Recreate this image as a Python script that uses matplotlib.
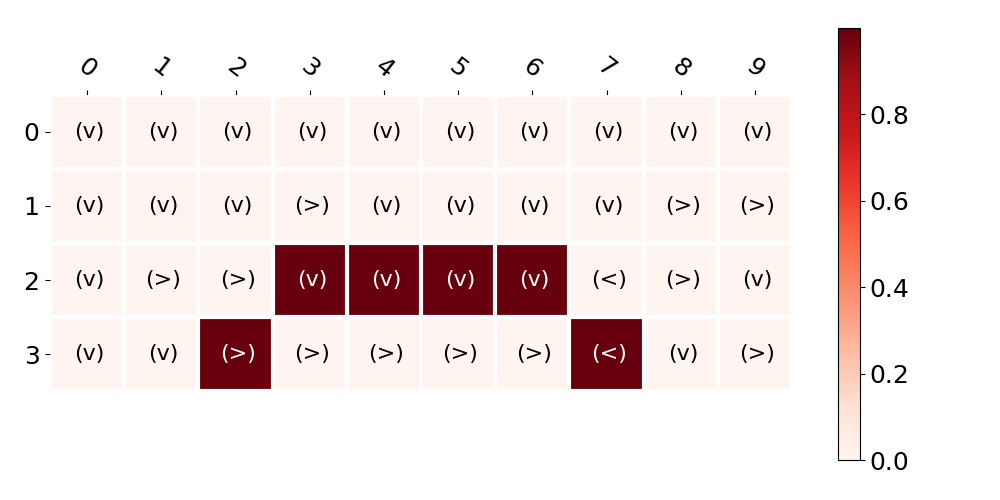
import matplotlib
matplotlib.use("Agg")
import matplotlib.pyplot as plt
import numpy as np

# grid values (0 = light, 1 = dark)
row_0 = [0, 0, 0, 0, 0, 0, 0, 0, 0, 0]
row_1 = [0, 0, 0, 0, 0, 0, 0, 0, 0, 0]
row_2 = [0, 0, 0, 1, 1, 1, 1, 0, 0, 0]
row_3 = [0, 0, 1, 0, 0, 0, 0, 1, 0, 0]

# cell labels
labels_0 = ["v", "v", "v", "v", "v", "v", "v", "v", "v", "v"]
labels_1 = ["v", "v", "v", ">", "v", "v", "v", "v", ">", ">"]
labels_2 = ["v", ">", ">", "v", "v", "v", "v", "<", ">", "v"]
labels_3 = ["v", "v", ">", ">", ">", ">", ">", "<", "v", ">"]

col_names = [str(i) for i in range(10)]
row_names = [str(i) for i in range(4)]

values = np.array([row_0, row_1, row_2, row_3], dtype=float)
labels = [labels_0, labels_1, labels_2, labels_3]

fig = plt.figure(figsize=(10, 5), dpi=100)
ax = fig.add_axes([0.050, 0.2172, 0.742, 0.5936])
cax = fig.add_axes([0.838, 0.08, 0.022, 0.864])

im = ax.imshow(values, cmap="Reds", vmin=0, vmax=1, aspect="equal")

# white separators between cells
ax.set_xticks(np.arange(values.shape[1] + 1) - 0.5, minor=True)
ax.set_yticks(np.arange(values.shape[0] + 1) - 0.5, minor=True)
ax.grid(which="minor", color="white", linewidth=3)
ax.tick_params(which="minor", top=False, bottom=False, left=False)
for s in ax.spines.values():
    s.set_visible(False)

ax.set_xticks(np.arange(len(col_names)))
ax.set_xticklabels(col_names, fontsize=18, rotation=-38, ha="center")
ax.set_yticks(np.arange(len(row_names)))
ax.set_yticklabels(row_names, fontsize=18)
ax.tick_params(axis="x", top=True, bottom=False, labeltop=True,
               labelbottom=False, pad=5)
ax.tick_params(axis="y", pad=4)

for i in range(values.shape[0]):
    for j in range(values.shape[1]):
        color = "white" if values[i, j] > 0.5 else "black"
        ax.text(j + 0.03, i, "(" + labels[i][j] + ")", ha="center", va="center",
                fontsize=16, color=color)

cb = fig.colorbar(im, cax=cax)
cb.set_ticks([0.0, 0.2, 0.4, 0.6, 0.8])
cb.ax.tick_params(labelsize=18)

fig.savefig("out.png")
